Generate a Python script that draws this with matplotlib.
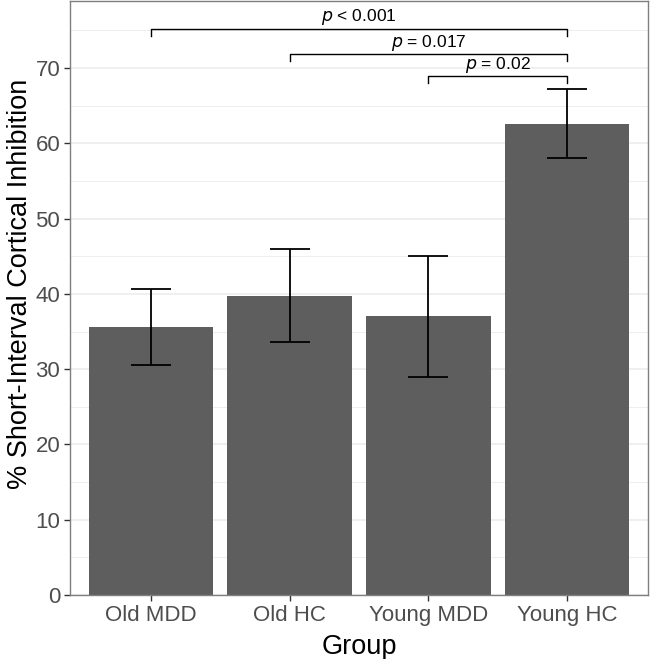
import numpy as np
import matplotlib.pyplot as plt

plt.rcParams['font.family'] = ['Liberation Sans', 'DejaVu Sans']

groups = ["Old MDD", "Old HC", "Young MDD", "Young HC"]
means = [35.6, 39.7, 37.0, 62.6]
lower = [30.5, 33.6, 29.0, 58.0]
upper = [40.7, 45.9, 45.0, 67.2]

# comparisons: (group a, group b, bracket height, label)
comparisons = [
    (0, 3, 75.2, "< 0.001"),
    (1, 3, 71.8, "= 0.017"),
    (2, 3, 68.9, "= 0.02"),
]

fig = plt.figure(figsize=(6.5, 6.59), dpi=100)
ax = fig.add_axes([70 / 650, 64 / 659, 578 / 650, 594 / 659])

x = np.arange(len(groups))
means = np.array(means)
yerr = [means - np.array(lower), np.array(upper) - means]
ax.bar(x, means, width=0.9, color="#5e5e5e", zorder=2)
ax.errorbar(x, means, yerr=yerr, fmt="none", ecolor="black", elinewidth=1.3,
            capsize=14.4, capthick=1.3, zorder=3)

for a, b, h, lab in comparisons:
    tip = 0.9
    ax.plot([a, a, b, b], [h - tip, h, h, h - tip], color="black", lw=1.0, zorder=4)
    ax.text((a + b) / 2, h + 0.2, r"$p$ " + lab, ha="center", va="bottom",
            fontsize=12.5, color="black")

ax.set_xlim(-0.585, 3.585)
ax.set_ylim(0, 78.9)
ax.set_yticks(np.arange(0, 71, 10))
ax.set_yticks(np.arange(5, 76, 10), minor=True)
ax.set_xticks(x)
ax.set_xticklabels(groups)
ax.grid(True, which="major", color="#ebebeb", lw=1.1, zorder=0)
ax.grid(True, which="minor", color="#ebebeb", lw=0.6, zorder=0)
ax.xaxis.grid(False, which="both")
ax.tick_params(axis="both", which="major", labelsize=16, labelcolor="#4d4d4d",
               color="#333333", length=4, width=1, pad=3)
ax.tick_params(axis="both", which="minor", length=0)
for s in ax.spines.values():
    s.set_color("#7f7f7f")
    s.set_linewidth(1.0)
ax.set_axisbelow(True)

ax.set_xlabel("Group", fontsize=19.5, labelpad=6)
ax.set_ylabel("% Short-Interval Cortical Inhibition", fontsize=19.5, labelpad=2)
ax.yaxis.label.set_y(0.524)

fig.savefig("out.png", dpi=100)
